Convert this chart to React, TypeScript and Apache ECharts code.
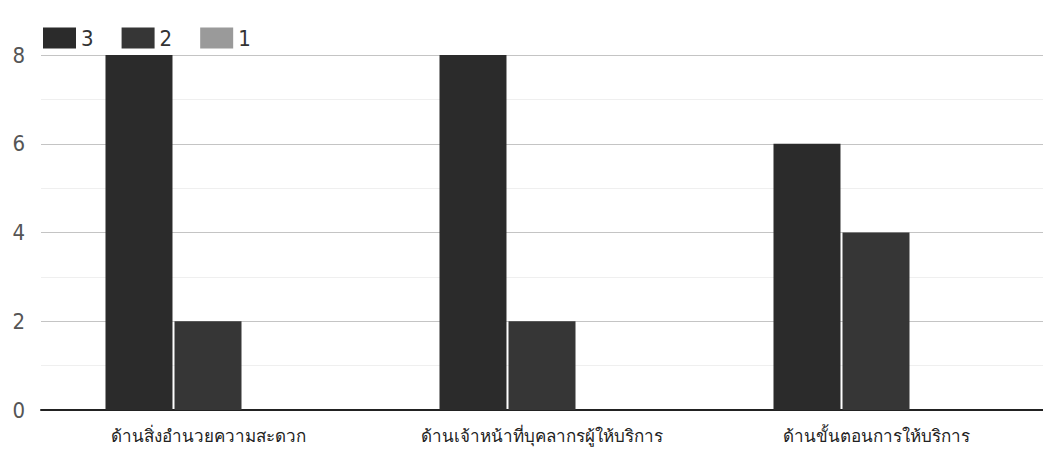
import React, { useEffect, useRef } from "react";
import * as echarts from "echarts";

const categories = [
  "ด้านสิ่งอำนวยความสะดวก",
  "ด้านเจ้าหน้าที่บุคลากรผู้ให้บริการ",
  "ด้านขั้นตอนการให้บริการ",
];
const seriesNames = ["3", "2", "1"];
const values3 = [8, 8, 6];
const values2 = [2, 2, 4];
const values1 = [0, 0, 0];
const colors = ["#2b2b2b", "#363636", "#9a9a9a"];

const narrow = "'Liberation Sans Narrow', 'DejaVu Sans Condensed', 'Liberation Sans', sans-serif";

export default function App() {
  const ref = useRef<HTMLDivElement>(null);
  useEffect(() => {
    document.body.style.margin = "0";
    const chart = echarts.init(ref.current!, null, { renderer: "svg" });
    const data = [values3, values2, values1];
    chart.setOption({
      animation: false,
      backgroundColor: "#ffffff",
      color: colors,
      legend: {
        left: 38,
        top: 22,
        itemWidth: 33,
        itemHeight: 21,
        itemGap: 28,
        icon: "rect",
        textStyle: { fontFamily: narrow, fontSize: 22, color: "#333" },
        data: seriesNames,
      },
      grid: { left: 41, right: 0, top: 55, bottom: 43, containLabel: false },
      xAxis: {
        type: "category",
        data: categories,
        axisTick: { show: false },
        axisLine: { lineStyle: { color: "#222", width: 2 } },
        axisLabel: {
          margin: 17,
          fontSize: 17,
          color: "#222",
          fontFamily: narrow,
        },
      },
      yAxis: {
        type: "value",
        min: 0,
        max: 8,
        interval: 2,
        axisLine: { show: false },
        axisTick: { show: false },
        axisLabel: { margin: 16, fontSize: 22, color: "#555", fontFamily: narrow },
        splitLine: { lineStyle: { color: "#c4c4c4", width: 1 } },
        minorTick: { show: false, splitNumber: 2 },
        minorSplitLine: { show: true, lineStyle: { color: "#efefef", width: 1 } },
      },
      series: seriesNames.map((name, i) => ({
        name,
        type: "bar",
        data: data[i],
        barWidth: 67,
        barGap: "3%",
        itemStyle: { color: colors[i] },
      })),
    });
    return () => chart.dispose();
  }, []);
  return <div ref={ref} style={{ width: 1043, height: 453 }} />;
}
